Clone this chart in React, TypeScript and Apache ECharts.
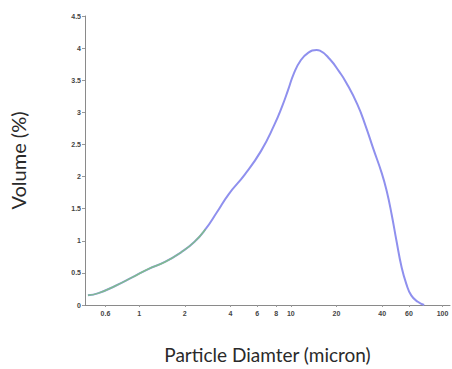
import React, { useEffect, useRef } from "react";
import * as echarts from "echarts";

const diameters = [0.46, 0.54, 0.7, 0.9, 1.15, 1.48, 1.89, 2.31, 2.74, 3.25, 3.88, 4.97, 6.37, 7.77, 8.79, 9.6, 10.45, 11.55, 13.06, 14.78, 15.55, 18.04, 20.9, 23.1, 27.5, 31.1, 35.0, 39.8, 42.9, 46.2, 49.7, 53.6, 57.7, 62.2, 68.7, 75.7];
const volumes = [0.15, 0.185, 0.3, 0.43, 0.56, 0.67, 0.82, 0.98, 1.18, 1.44, 1.72, 2.03, 2.4, 2.8, 3.1, 3.35, 3.6, 3.8, 3.93, 3.97, 3.96, 3.83, 3.63, 3.47, 3.12, 2.79, 2.43, 2.05, 1.77, 1.41, 1.0, 0.6, 0.33, 0.15, 0.05, 0];
const greenUntil = 3;
const xTicks = [0.6, 1, 2, 4, 6, 8, 10, 20, 40, 60, 100];

export default function App() {
  const ref = useRef<HTMLDivElement>(null);
  useEffect(() => {
    if (!ref.current) return;
    const chart = echarts.init(ref.current, undefined, { renderer: "svg" });
    const all = diameters.map((d, i) => [d, volumes[i]]);
    const low = all.filter((p) => p[0] <= greenUntil);
    chart.setOption({
      animation: false,
      grid: { left: 77, top: 16, right: 2, bottom: 61 },
      xAxis: {
        type: "log",
        min: 0.44,
        max: 112,
        name: "Particle Diamter (micron)",
        nameLocation: "middle",
        nameGap: 40,
        nameTextStyle: { fontFamily: "Lato", fontSize: 19, color: "#2a2a2a" },
        axisLine: { lineStyle: { color: "#8a8a8a", width: 1 } },
        axisTick: { show: true, length: 2, inside: false, customValues: xTicks, lineStyle: { color: "#999" } },
        axisLabel: {
          customValues: xTicks,
          fontSize: 7,
          fontWeight: "bold",
          color: "#444",
          margin: 5,
          formatter: (v: number) => String(Math.round(v * 10) / 10),
        },
        splitLine: { show: false },
        minorTick: { show: false },
      },
      yAxis: {
        type: "value",
        min: 0,
        max: 4.5,
        interval: 0.5,
        name: "Volume (%)",
        nameLocation: "middle",
        nameGap: 57,
        nameTextStyle: { fontFamily: "Lato", fontSize: 20, color: "#2a2a2a" },
        axisLine: { show: true, lineStyle: { color: "#8a8a8a", width: 1 } },
        axisTick: { show: true, length: 3, lineStyle: { color: "#999" } },
        axisLabel: { fontSize: 7, fontWeight: "bold", color: "#444", margin: 4 },
        splitLine: { show: false },
      },
      series: [
        {
          type: "line",
          data: all,
          smooth: 0.5,
          showSymbol: false,
          lineStyle: { color: "#8f90ee", width: 2 },
        },
        {
          type: "line",
          data: low,
          smooth: 0.5,
          showSymbol: false,
          lineStyle: { color: "#7cc47c", width: 1.5, opacity: 0.85 },
        },
      ],
    });
    return () => chart.dispose();
  }, []);
  return <div ref={ref} style={{ width: 452, height: 369, position: "absolute", left: 0, top: 0 }} />;
}
